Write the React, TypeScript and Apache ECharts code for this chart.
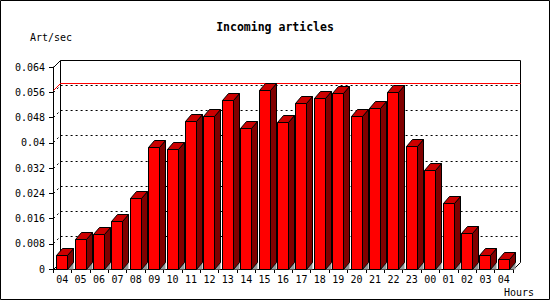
import React, { useEffect, useRef } from "react";
import * as echarts from "echarts";

const hours = ["04","05","06","07","08","09","10","11","12","13","14","15","16","17","18","19","20","21","22","23","00","01","02","03","04"];
const artPerSec = [0.0044,0.0092,0.0108,0.0152,0.0224,0.0386,0.0379,0.0468,0.0484,0.0534,0.0446,0.0566,0.0465,0.0525,0.0541,0.0557,0.0484,0.0509,0.056,0.0389,0.0313,0.0208,0.0111,0.0043,0.0031];
const yTickLabels = ["0","0.008","0.016","0.024","0.032","0.04","0.048","0.056","0.064"];
const yGridValues = [0.008,0.016,0.024,0.032,0.04,0.048,0.056];
const maxValue = [Math.max(...artPerSec)];

const FONT = "DejaVu Sans Mono";
const WALL = 7;
const DX = 6;
const DY = 7;
const snap = (n: number) => Math.round(n - 0.5) + 0.5;

export default function App() {
  const ref = useRef<HTMLDivElement>(null);
  useEffect(() => {
    if (!ref.current) return;
    const chart = echarts.init(ref.current, null, { renderer: "svg" });
    const option: any = {
      animation: false,
      backgroundColor: "#fff",
      textStyle: { fontFamily: FONT },
      grid: { left: 53, right: 37, top: 67, bottom: 31, containLabel: false },
      xAxis: {
        type: "category",
        data: hours,
        boundaryGap: true,
        axisLine: { show: true, lineStyle: { color: "#000", width: 1 } },
        axisTick: { show: true, length: 4, interval: 0, lineStyle: { color: "#000" } },
        axisLabel: { interval: 0, color: "#000", fontSize: 10, fontFamily: FONT, margin: 5 },
        splitLine: { show: false },
      },
      yAxis: {
        type: "value",
        min: 0,
        max: 0.064,
        interval: 0.008,
        axisLine: { show: true, lineStyle: { color: "#000", width: 1 } },
        axisTick: { show: true, length: 4, lineStyle: { color: "#000" } },
        axisLabel: {
          color: "#000",
          fontSize: 10,
          fontFamily: FONT,
          margin: 8,
          formatter: (v: number) => yTickLabels[Math.round(v / 0.008)] ?? String(v),
        },
        splitLine: { show: false },
      },
      graphic: [
        { type: "rect", shape: { x: 0.5, y: 0.5, width: 549, height: 299 }, style: { fill: "none", stroke: "#000", lineWidth: 1 }, z: 100 },
        { type: "text", x: 275, y: 27, style: { text: "Incoming articles", font: `bold 11.5px "${FONT}"`, fill: "#000", align: "center", verticalAlign: "middle" } },
        { type: "text", x: 30, y: 37, style: { text: "Art/sec", font: `10px "${FONT}"`, fill: "#000", align: "left", verticalAlign: "middle" } },
        { type: "text", x: 504, y: 292, style: { text: "Hours", font: `10px "${FONT}"`, fill: "#000", align: "left", verticalAlign: "middle" } },
      ],
      series: [
        {
          type: "custom",
          name: "grid",
          clip: false,
          silent: true,
          data: yGridValues.map((v) => [0, v]),
          renderItem: (params: any, api: any) => {
            const cs = params.coordSys;
            const y = snap(api.coord([0, api.value(1)])[1]);
            const x0 = snap(cs.x);
            return {
              type: "polyline",
              shape: { points: [[x0, y], [x0 + WALL, y - WALL], [x0 + cs.width + WALL, y - WALL]] },
              style: { fill: "none", stroke: "#000", lineWidth: 1, lineDash: [2, 3] },
            };
          },
        },
        {
          type: "custom",
          name: "wall",
          clip: false,
          silent: true,
          data: [[0, 0]],
          renderItem: (params: any, api: any) => {
            const cs = params.coordSys;
            const x0 = snap(cs.x), y0 = snap(cs.y), w = cs.width, h = cs.height;
            const s = { fill: "none", stroke: "#000", lineWidth: 1 };
            return {
              type: "group",
              children: [
                { type: "polyline", shape: { points: [[x0, y0], [x0 + WALL, y0 - WALL], [x0 + w + WALL, y0 - WALL], [x0 + w + WALL, y0 + h - WALL], [x0 + w, y0 + h]] }, style: s },
                { type: "polyline", shape: { points: [[x0 + WALL, y0 - WALL], [x0 + WALL, y0 + h - WALL], [x0, y0 + h]] }, style: s },
              ],
            };
          },
        },
        {
          type: "custom",
          name: "max",
          clip: false,
          silent: true,
          data: maxValue.map((v) => [0, v]),
          renderItem: (params: any, api: any) => {
            const cs = params.coordSys;
            const y = snap(api.coord([0, api.value(1)])[1]);
            const x0 = snap(cs.x);
            return {
              type: "polyline",
              shape: { points: [[x0, y], [x0 + WALL, y - WALL], [x0 + cs.width + WALL, y - WALL]] },
              style: { fill: "none", stroke: "#ff0000", lineWidth: 1 },
            };
          },
        },
        {
          type: "custom",
          name: "Art/sec",
          clip: false,
          data: artPerSec.map((v, i) => [i, v]),
          renderItem: (params: any, api: any) => {
            const i = api.value(0);
            const v = api.value(1);
            const top = api.coord([i, v]);
            const base = api.coord([i, 0]);
            const bw = api.size([1, 0])[0] * 0.6;
            const L = snap(top[0] - bw / 2);
            const R = snap(top[0] + bw / 2);
            const T = snap(top[1]);
            const B = snap(base[1]);
            const st = { stroke: "#000", lineWidth: 1 };
            return {
              type: "group",
              children: [
                { type: "polygon", shape: { points: [[R, B], [R + DX, B - DY], [R + DX, B]] }, style: { fill: "#999999", stroke: "none" } },
                { type: "polygon", shape: { points: [[R, B], [R, T], [R + DX, T - DY], [R + DX, B - DY]] }, style: { fill: "#800000", ...st } },
                { type: "polygon", shape: { points: [[L, T], [L + DX, T - DY], [R + DX, T - DY], [R, T]] }, style: { fill: "#cc0000", ...st } },
                { type: "rect", shape: { x: L, y: T, width: R - L, height: B - T }, style: { fill: "#ff0000", ...st } },
              ],
            };
          },
        },
      ],
    };
    chart.setOption(option);
    return () => chart.dispose();
  }, []);
  return (
    <div
      ref={ref}
      style={{ position: "absolute", left: 0, top: 0, width: 550, height: 300, background: "#fff" }}
    />
  );
}
